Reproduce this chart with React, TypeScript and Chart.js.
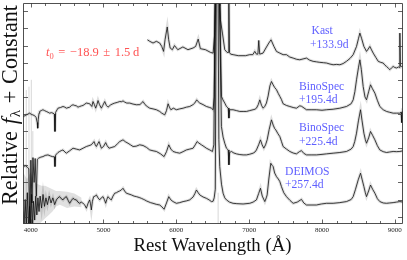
import React, { useEffect, useRef } from "react";
import { Chart, registerables } from "chart.js";

Chart.register(...registerables);

// ---------- axes ----------
const X_MIN = 3895;
const X_MAX = 9112;
const Y_MIN = -0.43;
const Y_MAX = 12.49;
const X_MAJOR = [4000, 5000, 6000, 7000, 8000, 9000];
const X_LABELS = ["4000", "5000", "6000", "7000", "8000", "9000"];
const X_MINOR_STEP = 200;
const Y_TICKS = [0, 1, 2, 3, 4, 5, 6, 7, 8, 9, 10, 11, 12];

// ---------- Kast +133.9d ----------
const kastLam = [5603,5635,5680,5726,5772,5800,5825,5845,5875,5895,5915,5945,5975,6020,6090,6160,6230,6265,6300,6330,6400,6470,6505,6525,6540,6563,6590,6605,6633,6665,6697,6712,6720,6730,6745,6780,6850,6950,7008,7050,7077,7100,7120,7132,7145,7190,7230,7270,7300,7340,7375,7421,7466,7512,7558,7604,7650,7695,7740,7787,7830,7878,7924,7970,8020,8062,8110,8153,8200,8245,8290,8336,8385,8428,8474,8500,8520,8545,8575,8611,8635,8657,8680,8703,8740,8772,8806,8840,8865,8886,8910,8932,8955,8977,9000,9023,9050,9062,9069,9076,9092,9112];
const kastFlux = [10.34,10.25,10.15,10.25,10.15,9.95,9.66,10.34,11.09,10.34,9.86,9.76,10.0,9.76,9.92,9.76,9.86,9.95,10.38,9.82,9.76,9.6,9.56,10.6,13.5,14,13.5,11.51,10.73,9.76,9.6,9.6,13.5,9.6,9.5,9.47,9.41,9.41,9.47,9.47,9.66,9.5,9.5,10.3,9.5,9.56,9.86,10.15,10.34,9.95,9.66,9.56,9.47,9.47,9.33,9.27,9.2,9.17,9.22,9.27,9.15,9.08,9.05,9.02,9.0,8.98,8.92,8.88,8.9,8.88,8.95,9.08,9.25,9.47,9.95,10.4,10.73,10.4,9.95,9.66,9.8,9.95,9.75,9.56,9.3,9.08,9.02,8.98,8.85,8.78,8.68,8.59,8.7,8.78,8.72,8.69,8.75,8.72,10.73,8.8,8.78,8.8];

// ---------- BinoSpec +195.4d ----------
const bino1Lam = [3895,3920,3940,3965,3985,4010,4030,4055,4075,4090,4097,4105,4115,4124,4145,4169,4190,4215,4240,4261,4285,4307,4325,4334,4343,4375,4410,4444,4470,4490,4536,4560,4582,4605,4627,4650,4673,4700,4719,4745,4765,4790,4810,4840,4856,4875,4893,4910,4925,4945,4971,4990,5017,5040,5062,5100,5130,5154,5190,5223,5250,5268,5290,5320,5360,5406,5452,5500,5543,5570,5600,5635,5680,5726,5772,5800,5841,5865,5887,5905,5925,5960,6001,6047,6093,6138,6184,6230,6255,6280,6300,6322,6367,6413,6459,6482,6505,6520,6538,6563,6592,6619,6640,6665,6688,6712,6722,6732,6779,6825,6871,6917,6963,7008,7054,7080,7100,7125,7146,7170,7192,7215,7237,7260,7285,7306,7330,7350,7375,7400,7421,7443,7466,7512,7558,7604,7649,7695,7720,7787,7850,7924,8000,8062,8153,8245,8336,8400,8428,8451,8474,8500,8520,8540,8565,8590,8611,8640,8666,8690,8726,8760,8794,8840,8886,8930,8977,9023,9069,9085,9095,9102,9112];
const bino1Flux = [5.85,5.9,5.95,6.0,6.05,5.98,5.95,5.9,5.8,5.5,5.17,5.7,6.05,6.15,6.2,6.25,6.2,6.15,6.1,6.05,6.08,6.05,6.0,4.98,6.1,6.34,6.38,6.44,6.4,6.34,6.4,6.5,6.54,6.5,6.48,6.4,6.44,6.48,6.5,6.58,6.64,6.62,6.6,6.44,6.73,6.55,6.34,6.55,6.79,6.55,6.34,6.5,6.73,6.5,6.4,6.54,6.6,6.64,6.68,6.73,6.72,6.77,6.7,6.64,6.64,6.58,6.54,6.55,6.73,6.55,6.44,6.34,6.3,6.25,6.15,6.05,5.95,6.2,6.6,6.4,6.25,6.34,6.25,6.3,6.34,6.4,6.44,6.55,6.65,6.83,6.72,6.64,6.55,6.44,6.38,6.34,6.25,7.0,13.5,14,13.5,7.03,6.83,6.64,6.44,6.35,5.76,6.25,6.25,6.2,6.15,6.15,6.15,6.2,6.25,6.28,6.34,6.55,6.83,6.5,6.34,6.45,6.64,7.05,7.65,7.9,7.7,7.55,7.42,7.2,7.03,6.85,6.6,6.5,6.44,6.38,6.34,6.48,6.45,6.25,6.25,6.25,6.22,6.25,6.28,6.34,6.44,6.6,6.83,7.3,8.0,8.7,9.17,8.6,7.61,7.0,6.83,7.3,7.71,7.5,7.22,6.8,6.44,6.25,6.15,6.1,6.05,6.05,6.05,6.1,5.5,6.15,6.1];

// ---------- BinoSpec +225.4d ----------
const bino2Lam = [3895,3915,3935,3955,3975,3990,4003,4018,4032,4048,4062,4078,4092,4110,4140,4169,4200,4238,4270,4300,4325,4334,4343,4375,4398,4420,4444,4470,4490,4536,4582,4627,4673,4719,4765,4800,4833,4870,4887,4902,4920,4939,4955,4971,5000,5030,5050,5076,5115,5154,5190,5223,5268,5300,5337,5370,5406,5450,5497,5543,5590,5635,5680,5726,5780,5832,5865,5896,5925,5955,6000,6047,6093,6138,6184,6230,6260,6285,6310,6344,6380,6413,6459,6496,6515,6535,6563,6590,6619,6642,6665,6688,6712,6722,6732,6756,6790,6825,6871,6917,6963,7008,7054,7080,7100,7130,7155,7178,7201,7225,7247,7275,7306,7330,7350,7366,7395,7421,7443,7466,7512,7558,7604,7649,7690,7718,7750,7787,7850,7924,8000,8062,8153,8245,8336,8400,8428,8450,8474,8500,8529,8550,8575,8595,8611,8640,8666,8695,8726,8760,8794,8840,8886,8930,8977,9023,9069,9112];
const bino2Flux = [3.03,2.95,2.98,2.88,2.8,-0.6,3.3,0.8,3.45,2.0,3.4,1.2,3.35,3.42,3.48,3.51,3.58,3.61,3.55,3.51,3.5,2.93,3.6,3.75,3.81,3.86,3.9,3.78,3.71,3.85,4.0,3.95,3.9,4.0,4.1,4.15,4.2,4.39,4.2,4.1,4.25,4.39,4.2,4.0,4.1,4.33,4.15,4.0,4.05,4.1,4.25,4.39,4.49,4.38,4.29,4.2,4.1,4.12,4.2,4.16,4.05,3.9,3.85,3.81,3.68,3.51,3.8,4.2,3.95,3.81,3.75,3.71,3.8,3.9,3.95,4.0,4.2,4.39,4.3,4.2,4.1,4.0,3.9,3.81,4.2,13.5,14,13.5,5.27,4.65,4.29,4.0,3.9,3.03,3.75,3.81,3.72,3.67,3.63,3.61,3.61,3.65,3.71,3.78,3.9,4.2,4.49,4.2,4.0,4.2,4.49,5.1,5.66,5.35,5.15,5.07,4.85,4.68,4.4,4.1,3.95,3.81,3.72,3.67,3.8,3.86,3.7,3.61,3.61,3.61,3.64,3.67,3.71,3.75,3.81,3.95,4.1,4.4,4.88,5.6,6.25,5.6,4.88,4.5,4.29,4.6,4.98,4.75,4.49,4.15,3.9,3.8,3.75,3.78,3.81,3.8,3.81,3.85];

// ---------- DEIMOS +257.4d ----------
const deimosLam = [3895,3910,3925,3940,3955,3970,3985,3998,4012,4025,4040,4055,4070,4085,4100,4115,4130,4150,4170,4190,4210,4230,4255,4280,4305,4330,4353,4375,4398,4420,4444,4465,4490,4515,4536,4560,4582,4605,4627,4650,4673,4695,4719,4740,4765,4790,4810,4822,4833,4848,4865,4885,4902,4925,4948,4970,4994,5012,5030,5045,5062,5085,5108,5130,5154,5178,5200,5222,5245,5268,5290,5314,5350,5383,5420,5452,5490,5520,5545,5566,5590,5612,5645,5680,5725,5772,5800,5832,5865,5896,5925,5955,6001,6047,6093,6138,6184,6230,6255,6276,6300,6322,6367,6413,6450,6482,6505,6520,6535,6548,6560,6572,6584,6596,6620,6642,6665,6688,6730,6779,6830,6917,7008,7054,7100,7130,7155,7180,7215,7235,7247,7270,7297,7315,7329,7350,7375,7400,7421,7443,7475,7512,7560,7604,7660,7718,7750,7787,7850,7924,7990,8062,8153,8245,8336,8400,8428,8460,8497,8529,8552,8575,8595,8611,8640,8666,8695,8726,8760,8794,8840,8886,8930,8977,9023,9069,9112];
const deimosFlux = [0.3,-0.6,1.0,-0.6,1.4,-0.6,0.6,-0.6,1.3,-0.6,0.9,-0.2,1.2,0.1,1.1,0.3,1.2,0.5,1.3,0.6,1.1,0.7,1.2,0.8,1.1,0.7,0.98,1.1,1.17,1.05,0.98,1.1,1.17,0.95,0.78,0.95,1.07,1.0,0.98,0.85,0.78,0.85,0.78,0.7,0.49,0.8,0.98,0.75,0.39,0.9,1.17,1.2,1.27,1.1,0.98,1.1,1.17,1.0,0.78,1.0,1.17,1.05,0.98,1.2,1.37,1.4,1.46,1.5,1.56,1.66,1.5,1.37,1.32,1.27,1.2,1.17,1.12,1.07,1.02,0.98,0.92,0.88,0.82,0.78,0.72,0.68,0.58,0.43,0.8,1.17,0.98,0.88,0.78,0.82,0.88,0.92,0.98,1.15,1.35,1.56,1.4,1.27,1.15,1.07,0.98,0.88,0.9,1.1,1.6,13.5,14.0,13.5,4.5,2.93,1.9,1.37,1.1,0.98,0.85,0.78,0.76,0.74,0.78,0.85,0.98,1.35,1.66,1.2,0.88,1.1,1.27,2.2,3.12,3.0,2.93,2.55,2.34,2.2,2.05,1.76,1.4,1.17,0.95,0.78,0.85,1.01,0.8,0.68,0.68,0.68,0.74,0.78,0.78,0.82,0.88,1.0,1.17,1.6,2.15,2.54,2.15,1.76,1.4,1.17,1.5,1.85,1.6,1.37,1.05,0.88,0.8,0.78,0.8,0.82,0.85,0.88,0.85];

// ---------- raw-data noise (grey) ----------
const bandLam = [3895,3950,4000,4050,4100,4150,4200,4250,4300,4350,4400,4500,4600,4700];
const bandHi = [2.6,2.2,2.6,2.0,1.9,1.8,1.8,1.7,1.6,1.5,1.5,1.45,1.35,1.1];
const bandLo = [-0.5,-0.5,-0.5,-0.5,-0.5,-0.3,-0.1,0.1,0.3,0.6,0.7,0.5,0.6,0.55];
const spikeLam = [3940,3977,4009,4030,6574];
const spikeLo = [-0.5,-0.5,-0.5,-0.5,-0.5];
const spikeHi = [7.4,7.6,8.0,5.0,1.4];

// ---------- text ----------
const SPEC_LABELS = ["Kast", "+133.9d", "BinoSpec", "+195.4d", "BinoSpec", "+225.4d", "DEIMOS", "+257.4d"];
const LABEL_POS = [[311.5, 34.3], [310, 48.3], [299, 90], [299, 103], [299, 131], [299, 145], [285, 175], [285, 188]];
const X_TITLE = "Rest Wavelength (Å)";
const T0_TOKENS = ["=", "\u221218.9", "\u00b1", "1.5", "d"];

const SERIF = '"Liberation Serif", "DejaVu Serif", serif';
const BLUE = "rgb(96,96,255)";
const RED = "rgb(255,84,84)";

function pts(lam: number[], f: number[]) {
  return lam.map((x, i) => ({ x, y: f[i] }));
}

function fitSize(ctx: CanvasRenderingContext2D, text: string, target: number, style = "") {
  ctx.font = `${style} 20px ${SERIF}`;
  const w = ctx.measureText(text).width;
  return (20 * target) / w;
}

const overlay = {
  id: "overlay",
  afterDraw(chart: any) {
    const { ctx, chartArea: a, scales } = chart;
    const xs = scales.x;
    const ys = scales.y;
    ctx.save();

    // frame
    ctx.strokeStyle = "#3c3c3c";
    ctx.lineWidth = 0.9;
    ctx.beginPath();
    ctx.rect(a.left + 0.5, a.top + 0.5, a.right - a.left - 1, a.bottom - a.top - 1);
    ctx.stroke();

    // inward ticks
    ctx.lineWidth = 0.8;
    ctx.beginPath();
    for (let v = X_MAJOR[0]; v <= X_MAX; v += X_MINOR_STEP) {
      const px = Math.round(xs.getPixelForValue(v)) + 0.5;
      const len = X_MAJOR.includes(v) ? 4.5 : 3;
      ctx.moveTo(px, a.bottom);
      ctx.lineTo(px, a.bottom - len);
      ctx.moveTo(px, a.top);
      ctx.lineTo(px, a.top + len);
    }
    for (const v of Y_TICKS) {
      const py = Math.round(ys.getPixelForValue(v)) + 0.5;
      ctx.moveTo(a.left, py);
      ctx.lineTo(a.left + 5, py);
      ctx.moveTo(a.right, py);
      ctx.lineTo(a.right - 5, py);
    }
    ctx.stroke();

    // x tick labels
    ctx.fillStyle = "#222";
    ctx.font = `7px ${SERIF}`;
    ctx.textAlign = "center";
    ctx.textBaseline = "alphabetic";
    X_MAJOR.forEach((v, i) => {
      ctx.fillText(X_LABELS[i], xs.getPixelForValue(v), 231.5);
    });

    // x title
    const xs2 = fitSize(ctx, X_TITLE, 158);
    ctx.font = `${xs2}px ${SERIF}`;
    ctx.fillStyle = "#111";
    ctx.fillText(X_TITLE, 212.5, 250.5);

    // y title (rotated)
    ctx.save();
    ctx.translate(16.5, 0);
    ctx.rotate(-Math.PI / 2);
    ctx.textAlign = "left";
    const base = 20;
    ctx.font = `${base}px ${SERIF}`;
    const r0 = ctx.measureText("Relative").width + ctx.measureText("+").width + ctx.measureText("Constant").width;
    ctx.font = `italic ${base}px ${SERIF}`;
    const f0 = ctx.measureText("f").width;
    ctx.font = `${base * 0.68}px ${SERIF}`;
    const l0 = ctx.measureText("λ").width;
    const fs = (200 * base) / (r0 + f0 + l0 + 0.95 * base);
    const normal = `${fs}px ${SERIF}`;
    const ital = `italic ${fs}px ${SERIF}`;
    const sub = `${fs * 0.68}px ${SERIF}`;
    ctx.font = normal;
    const wRel = ctx.measureText("Relative").width;
    const wPlus = ctx.measureText("+").width;
    const wCon = ctx.measureText("Constant").width;
    ctx.font = ital;
    const wF = ctx.measureText("f").width;
    ctx.font = sub;
    const wL = ctx.measureText("λ").width;
    const gap = (200 - (wRel + wPlus + wCon + wF + wL + 1)) / 3;
    let u = -205;
    ctx.font = normal;
    ctx.fillText("Relative", u, 0);
    u += wRel + gap;
    ctx.font = ital;
    ctx.fillText("f", u, 0);
    u += wF + 1;
    ctx.font = sub;
    ctx.fillText("λ", u, 3.5);
    u += wL + gap;
    ctx.font = normal;
    ctx.fillText("+", u, 0);
    u += wPlus + gap;
    ctx.fillText("Constant", u, 0);
    ctx.restore();

    // t0 annotation
    ctx.fillStyle = RED;
    ctx.textAlign = "left";
    const tf = 12.5;
    ctx.font = `italic ${tf}px ${SERIF}`;
    const wt = ctx.measureText("t").width;
    ctx.font = `${tf * 0.68}px ${SERIF}`;
    const w0 = ctx.measureText("0").width;
    ctx.font = `${tf}px ${SERIF}`;
    const tokW = T0_TOKENS.map((t) => ctx.measureText(t).width);
    const sumW = wt + w0 + tokW.reduce((s, w) => s + w, 0);
    const tg = (93.3 - sumW) / 4.6;
    let tx = 46;
    ctx.font = `italic ${tf}px ${SERIF}`;
    ctx.fillText("t", tx, 56);
    tx += wt;
    ctx.font = `${tf * 0.68}px ${SERIF}`;
    ctx.fillText("0", tx, 58.5);
    tx += w0 + tg;
    ctx.font = `${tf}px ${SERIF}`;
    T0_TOKENS.forEach((t, i) => {
      ctx.fillText(t, tx, 56);
      tx += tokW[i] + (i === 3 ? tg * 0.6 : tg);
    });

    // spectrum labels
    const ls = fitSize(ctx, "BinoSpec", 45.3);
    ctx.font = `${ls}px ${SERIF}`;
    ctx.fillStyle = BLUE;
    SPEC_LABELS.forEach((t, i) => {
      ctx.fillText(t, LABEL_POS[i][0], LABEL_POS[i][1]);
    });

    ctx.restore();
  },
};

export default function App() {
  const ref = useRef<HTMLCanvasElement>(null);

  useEffect(() => {
    document.body.style.margin = "0";
    const canvas = ref.current;
    if (!canvas) return;

    const spikePts: any[] = [];
    spikeLam.forEach((l, i) => {
      spikePts.push({ x: l, y: spikeLo[i] }, { x: l, y: spikeHi[i] }, { x: l, y: null });
    });

    const series = [
      [kastLam, kastFlux],
      [bino1Lam, bino1Flux],
      [bino2Lam, bino2Flux],
      [deimosLam, deimosFlux],
    ];

    const greyLines = series.map(([l, f]) => ({
      data: pts(l, f),
      borderColor: "rgba(0,0,0,0.13)",
      borderWidth: 3,
      pointRadius: 0,
      fill: false,
      tension: 0,
    }));
    const blackLines = series.map(([l, f]) => ({
      data: pts(l, f),
      borderColor: "#111",
      borderWidth: 0.8,
      pointRadius: 0,
      fill: false,
      tension: 0,
    }));

    const chart = new Chart(canvas, {
      type: "line",
      data: {
        datasets: [
          {
            data: pts(bandLam, bandHi),
            borderWidth: 0,
            pointRadius: 0,
            backgroundColor: "rgba(0,0,0,0.12)",
            fill: "+1",
          } as any,
          {
            data: pts(bandLam, bandLo),
            borderWidth: 0,
            pointRadius: 0,
            fill: false,
          },
          {
            data: spikePts,
            borderColor: "rgba(0,0,0,0.16)",
            borderWidth: 1,
            pointRadius: 0,
            spanGaps: false,
            fill: false,
          },
          ...greyLines,
          ...blackLines,
        ],
      },
      options: {
        responsive: false,
        animation: false,
        layout: { padding: { left: 23, right: 4, top: 3, bottom: 36 } },
        plugins: {
          legend: { display: false },
          tooltip: { enabled: false },
          title: { display: false },
        },
        events: [],
        scales: {
          x: { type: "linear", min: X_MIN, max: X_MAX, display: false },
          y: { type: "linear", min: Y_MIN, max: Y_MAX, display: false },
        },
      },
      plugins: [overlay],
    });

    return () => chart.destroy();
  }, []);

  return <canvas ref={ref} width={407} height={260} style={{ display: "block" }} />;
}
